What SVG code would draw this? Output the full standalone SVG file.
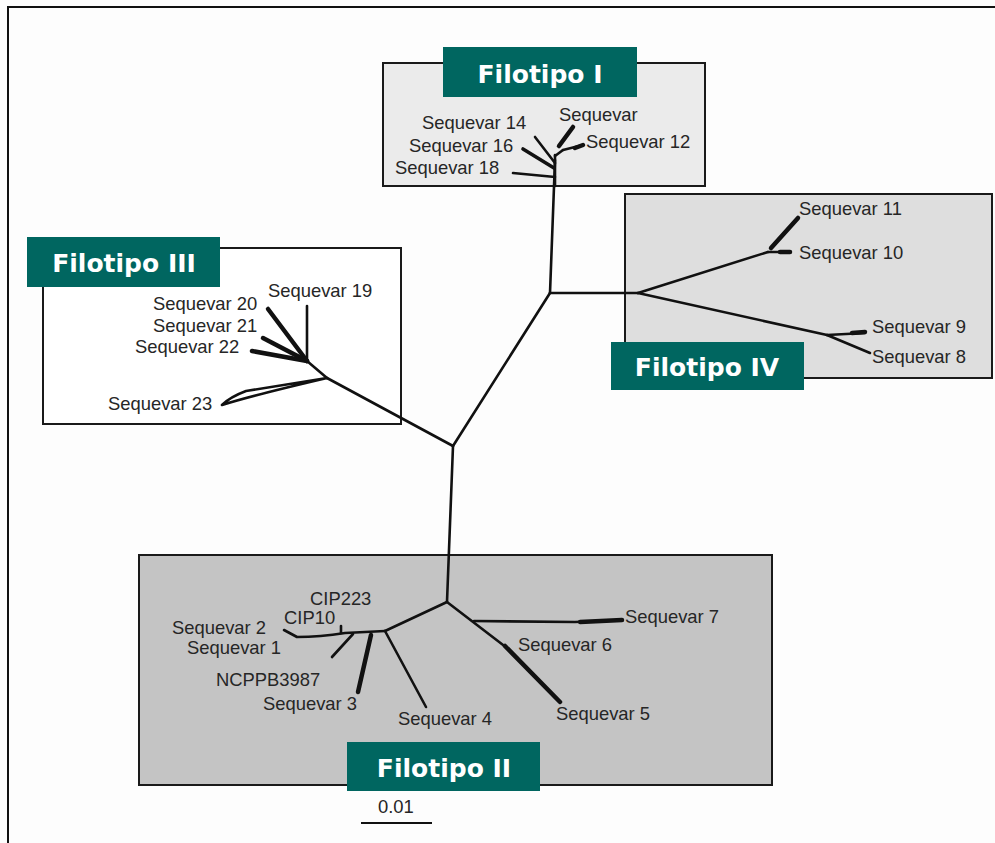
<svg xmlns="http://www.w3.org/2000/svg" width="995" height="843" viewBox="0 0 995 843">
<style>
.lbl{font-family:"Liberation Sans",Arial,sans-serif;font-size:18.4px;fill:#262626}
.tag{fill:#006660}
.tagt{font-family:"DejaVu Sans",Verdana,sans-serif;font-size:25px;font-weight:bold;fill:#ffffff}
.box{stroke:#1a1a1a;stroke-width:2}
.br{stroke:#111;stroke-width:2.6;fill:none;stroke-linecap:round;stroke-linejoin:round}
.thk{stroke:#111;stroke-width:4.5;fill:none;stroke-linecap:round}
</style>
<rect x="0" y="0" width="995" height="843" fill="#fdfdfd"/>
<path d="M8 843 V7 H995" fill="none" stroke="#111" stroke-width="2"/>

<g id="filotipo-I">
<rect class="box" x="383" y="63" width="322" height="123" fill="#ebebeb"/>
</g>
<g id="filotipo-IV">
<rect class="box" x="625" y="194" width="367" height="184" fill="#dedede"/>
</g>
<g id="filotipo-III">
<rect class="box" x="43" y="248" width="358" height="176" fill="#ffffff"/>
</g>
<g id="filotipo-II">
<rect class="box" x="139" y="555" width="633" height="230" fill="#c4c4c4"/>
</g>

<g id="connectors">
<line class="br" x1="453" y1="446" x2="550" y2="293"/>
<line class="br" x1="550" y1="293" x2="555" y2="160"/>
<line class="br" x1="550" y1="293" x2="638" y2="293"/>
<line class="br" x1="453" y1="446" x2="327" y2="378"/>
<line class="br" x1="453" y1="446" x2="447" y2="602"/>
<!-- Filotipo I -->
<line class="br" x1="555" y1="186" x2="555" y2="155"/>
<line class="br" x1="555" y1="177" x2="513" y2="173"/>
<line class="thk" x1="554" y1="168" x2="523" y2="149" style="stroke-width:3.6"/>
<line class="br" x1="555" y1="163" x2="535" y2="137"/>
<line class="br" x1="555" y1="156" x2="563" y2="150"/>
<line class="thk" x1="559" y1="146" x2="573" y2="127"/>
<line class="br" x1="563" y1="150" x2="583" y2="145"/>
<line class="thk" x1="575" y1="148" x2="583" y2="145"/>
<!-- Filotipo IV -->
<line class="br" x1="638" y1="293" x2="768" y2="252"/>
<line class="br" x1="768" y1="252" x2="790" y2="252"/>
<line class="thk" x1="780" y1="252" x2="790" y2="252"/>
<line class="thk" x1="771" y1="248" x2="798" y2="218"/>
<line class="br" x1="638" y1="293" x2="827" y2="335"/>
<line class="br" x1="827" y1="335" x2="865" y2="333"/>
<line class="thk" x1="852" y1="333" x2="865" y2="332"/>
<line class="br" x1="827" y1="335" x2="870" y2="353"/>
<!-- Filotipo III -->
<line class="br" x1="327" y1="378" x2="307" y2="361"/>
<line class="br" x1="307" y1="361" x2="307" y2="306"/>
<line class="thk" x1="307" y1="361" x2="268" y2="309"/>
<line class="thk" x1="307" y1="361" x2="263" y2="338"/>
<line class="thk" x1="307" y1="361" x2="252" y2="351"/>
<path class="br" d="M327 378 L246 391 Q230 397 222 405 Q250 396 327 378"/>
<!-- Filotipo II -->
<line class="br" x1="447" y1="602" x2="385" y2="631"/>
<path class="br" d="M385 631 L345 633 Q320 637 297 637 L284 630"/>
<line class="br" x1="341" y1="626" x2="341" y2="633"/>
<line class="br" x1="353" y1="634" x2="332" y2="657"/>
<line class="thk" x1="371" y1="635" x2="358" y2="692"/>
<line class="br" x1="385" y1="631" x2="426" y2="707"/>
<line class="br" x1="447" y1="602" x2="507" y2="648"/>
<line class="thk" x1="505" y1="646" x2="560" y2="702"/>
<path class="br" d="M474 621 L575 622 L622 620"/>
<line class="thk" x1="580" y1="622" x2="622" y2="620"/>
</g>

<g id="leaves">
<text class="lbl" x="422" y="129">Sequevar 14</text>
<text class="lbl" x="409" y="152">Sequevar 16</text>
<text class="lbl" x="395" y="174">Sequevar 18</text>
<text class="lbl" x="559" y="121">Sequevar</text>
<text class="lbl" x="586" y="148">Sequevar 12</text>
<text class="lbl" x="799" y="215">Sequevar 11</text>
<text class="lbl" x="799" y="259">Sequevar 10</text>
<text class="lbl" x="872" y="333">Sequevar 9</text>
<text class="lbl" x="872" y="363">Sequevar 8</text>
<text class="lbl" x="268" y="297">Sequevar 19</text>
<text class="lbl" x="153" y="310">Sequevar 20</text>
<text class="lbl" x="153" y="332">Sequevar 21</text>
<text class="lbl" x="135" y="353">Sequevar 22</text>
<text class="lbl" x="108" y="410">Sequevar 23</text>
<text class="lbl" x="310" y="605">CIP223</text>
<text class="lbl" x="284" y="624">CIP10</text>
<text class="lbl" x="172" y="634">Sequevar 2</text>
<text class="lbl" x="187" y="654">Sequevar 1</text>
<text class="lbl" x="216" y="686">NCPPB3987</text>
<text class="lbl" x="263" y="710">Sequevar 3</text>
<text class="lbl" x="398" y="725">Sequevar 4</text>
<text class="lbl" x="556" y="720">Sequevar 5</text>
<text class="lbl" x="518" y="651">Sequevar 6</text>
<text class="lbl" x="625" y="623">Sequevar 7</text>
</g>

<g id="tag-I"><rect class="tag" x="443" y="47" width="194" height="50"/><text class="tagt" x="540" y="83" text-anchor="middle">Filotipo I</text></g>
<g id="tag-IV"><rect class="tag" x="611" y="342" width="193" height="48"/><text class="tagt" x="707" y="376" text-anchor="middle">Filotipo IV</text></g>
<g id="tag-III"><rect class="tag" x="27" y="237" width="193" height="50"/><text class="tagt" x="124" y="272" text-anchor="middle">Filotipo III</text></g>
<g id="tag-II"><rect class="tag" x="347" y="742" width="193" height="49"/><text class="tagt" x="444" y="777" text-anchor="middle">Filotipo II</text></g>

<g id="scale">
<line x1="361" y1="823" x2="432" y2="823" stroke="#111" stroke-width="2.2"/>
<text class="lbl" x="378" y="813">0.01</text>
</g>
</svg>
